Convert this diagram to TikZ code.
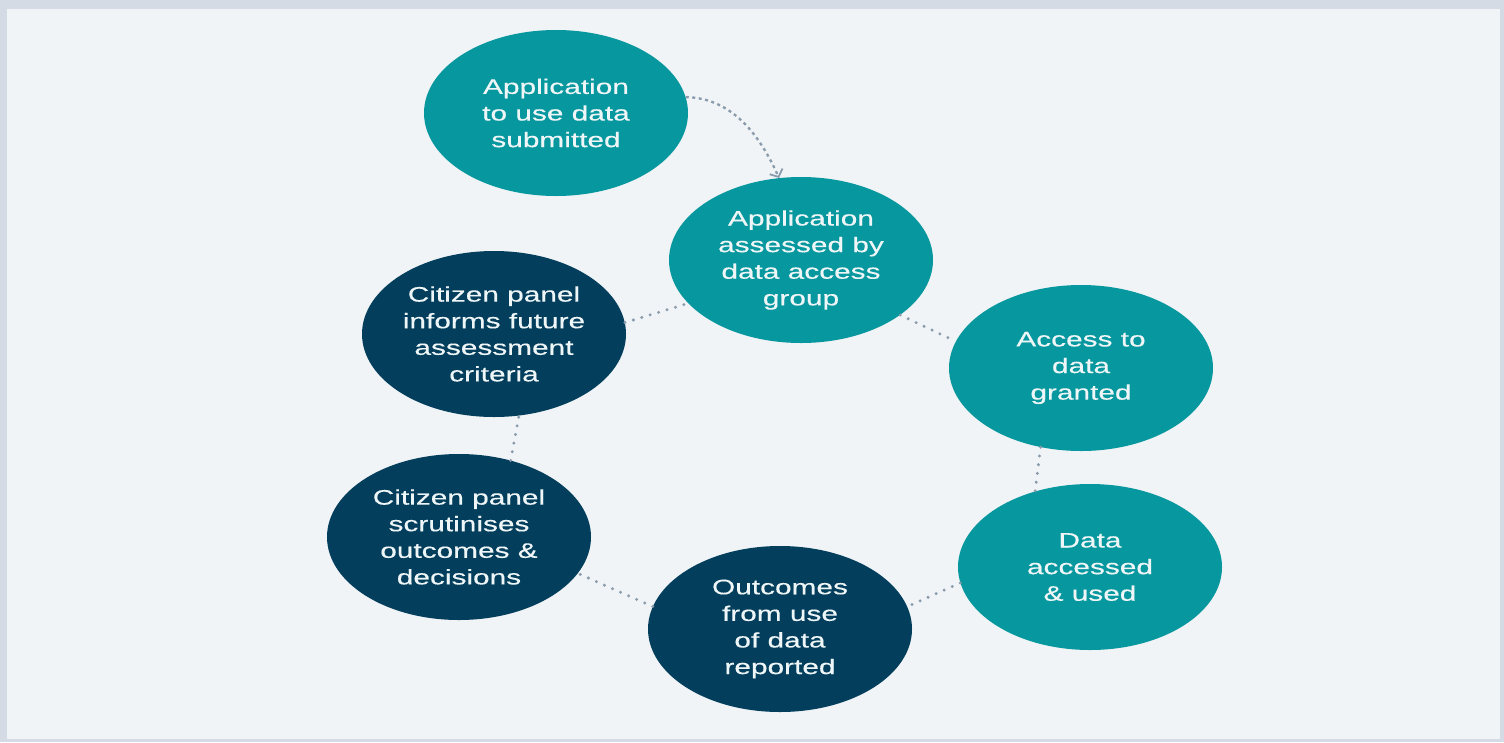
\documentclass[tikz,border=0pt]{standalone}
\usepackage{fontspec}
\setmainfont{Liberation Sans}[FakeStretch=1.42,FakeBold=0.35]
\usetikzlibrary{shapes.geometric,arrows.meta}
\definecolor{outerbg}{HTML}{D4DBE5}
\definecolor{innerbg}{HTML}{F0F4F6}
\definecolor{tealc}{HTML}{07979E}
\definecolor{navyc}{HTML}{033E5C}
\definecolor{dotc}{HTML}{8A9BAD}
\definecolor{txtc}{HTML}{EEF6F7}
\tikzset{
  stage/.style={ellipse, minimum width=264pt, minimum height=166pt, inner sep=0pt,
    align=center, text=txtc, font=\fontsize{21}{26.6}\selectfont},
  tealstage/.style={stage, fill=tealc},
  navystage/.style={stage, fill=navyc},
  dotlink/.style={draw=dotc, line width=3.3pt, line cap=round, dash pattern=on 0pt off 8.8pt},
  arrlink/.style={draw=dotc, line width=2.3pt, dash pattern=on 3pt off 3.5pt,
    -{Straight Barb[length=6pt,width=14pt,line width=1.8pt]}}
}
\begin{document}
\begin{tikzpicture}[x=1pt,y=-1pt]
\useasboundingbox (0,0) rectangle (1504,742);
\fill[outerbg] (0,0) rectangle (1504,742);
\fill[innerbg] (7,9) rectangle (1500,739);

\node[tealstage] (n1) at (556,113) {Application\\to use data\\submitted};
\node[tealstage] (n2) at (801,260) {Application\\assessed by\\data access\\group};
\node[tealstage] (n3) at (1081,368) {Access to\\data\\granted};
\node[tealstage] (n4) at (1090,567) {Data\\accessed\\\& used};
\node[navystage] (n5) at (780,629) {Outcomes\\from use\\of data\\reported};
\node[navystage] (n6) at (459,537) {Citizen panel\\scrutinises\\outcomes \&\\decisions};
\node[navystage] (n7) at (494,334) {Citizen panel\\informs future\\assessment\\criteria};

\draw[arrlink] (n1.7) .. controls (735,98) and (762,140) .. (n2.105);
\draw[dotlink] (n2.-29) -- (n3.168);
\draw[dotlink] (n3.-117) -- (n4.126);
\draw[dotlink] (n4.187) -- (n5.10);
\draw[dotlink] (n5.170) -- (n6.-17);
\draw[dotlink] (n6.56) -- (n7.-73);
\draw[dotlink] (n7.5) -- (n2.201);
\end{tikzpicture}
\end{document}
